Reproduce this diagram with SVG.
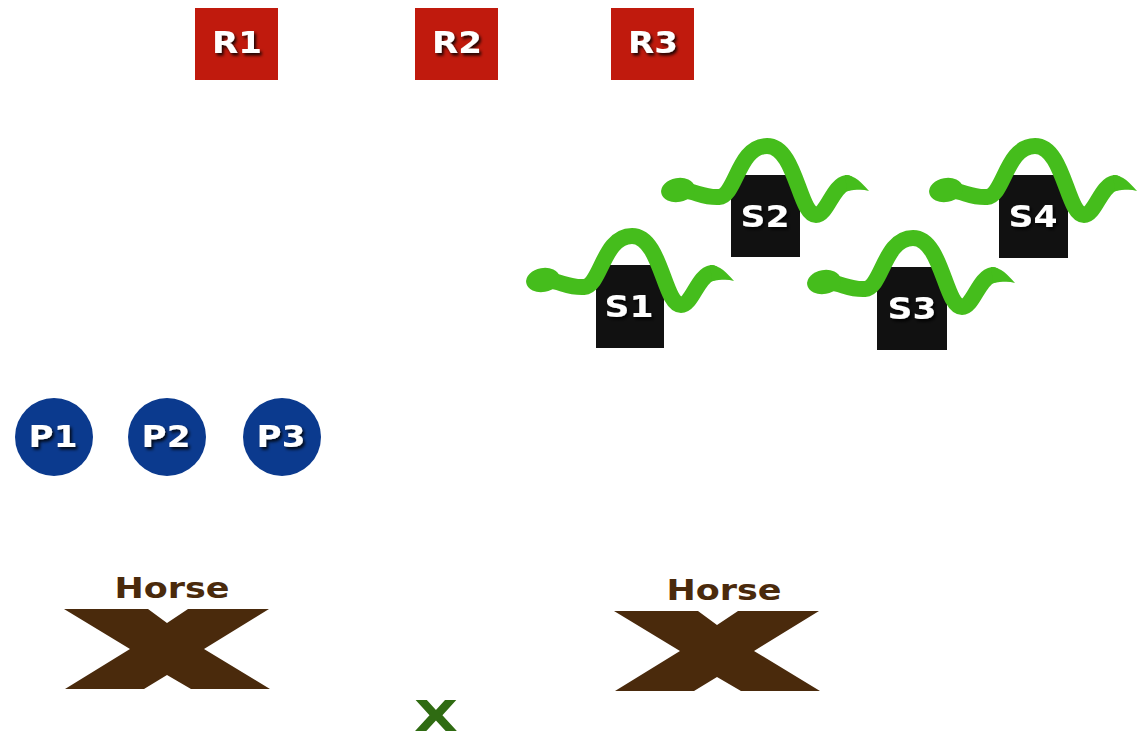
<svg xmlns="http://www.w3.org/2000/svg" xmlns:xlink="http://www.w3.org/1999/xlink" width="1140" height="740" viewBox="0 0 1140 740">
  <style>
    .lbl { font-family: "DejaVu Sans", "Liberation Sans", sans-serif; font-weight: bold; font-size: 30px; fill: #ffffff; text-anchor: middle; filter: url(#shadow); }
    .rbox { fill: #c01a0d; }
    .sbox { fill: #111111; }
    .pdot { fill: #0b3a8e; }
    .horse { fill: #4a2a0c; }
    .horse-txt { font-family: "DejaVu Sans", "Liberation Sans", sans-serif; font-weight: bold; font-size: 29px; fill: #4a2a0c; text-anchor: middle; }
    .snake { fill: none; stroke: #45bd1c; stroke-linecap: round; stroke-linejoin: round; }
    .snake-fill { fill: #45bd1c; }
  </style>
  <defs>
    <filter id="shadow" x="-30%" y="-30%" width="160%" height="160%">
      <feDropShadow dx="2" dy="2.5" stdDeviation="1.5" flood-color="#000000" flood-opacity="0.85"/>
    </filter>
    <!-- snake drawn relative to the top-left corner of its box -->
    <g id="snake">
      <path class="snake" stroke-width="16" d="M -52 16 C -38 14, -30 23, -12 22 C 5 21, 7 -29, 36 -29 C 65 -29, 68 40, 85 40 C 96 40, 102 10, 116 8"/>
      <path class="snake-fill" d="M 114 0 C 124 0, 131 8, 138 16 C 131 14, 124 15, 116 16 Z"/>
      <ellipse class="snake-fill" cx="-53" cy="15" rx="17" ry="12" transform="rotate(-10 -53 15)"/>
    </g>
    <!-- brown X marker, origin at its top-left corner -->
    <polygon id="xmark" points="0,0 84,0 103,14 124,0 205,0 140,40 206,80 127,80 103,66 80,80 1,80 66,40"/>
  </defs>

  <rect width="1140" height="740" fill="#ffffff"/>

  <!-- resources -->
  <g id="R1"><rect class="rbox" x="195" y="8" width="83" height="72"/><text class="lbl" x="237" y="53" textLength="50" lengthAdjust="spacingAndGlyphs">R1</text></g>
  <g id="R2"><rect class="rbox" x="415" y="8" width="83" height="72"/><text class="lbl" x="457" y="53" textLength="50" lengthAdjust="spacingAndGlyphs">R2</text></g>
  <g id="R3"><rect class="rbox" x="611" y="8" width="83" height="72"/><text class="lbl" x="653" y="53" textLength="50" lengthAdjust="spacingAndGlyphs">R3</text></g>

  <!-- snake boxes -->
  <g id="S1" transform="translate(596,265)">
    <rect class="sbox" width="68" height="83"/>
    <use xlink:href="#snake"/>
    <text class="lbl" x="33" y="52" textLength="49" lengthAdjust="spacingAndGlyphs">S1</text>
  </g>
  <g id="S2" transform="translate(731,175)">
    <rect class="sbox" width="69" height="82"/>
    <use xlink:href="#snake"/>
    <text class="lbl" x="34" y="52" textLength="49" lengthAdjust="spacingAndGlyphs">S2</text>
  </g>
  <g id="S3" transform="translate(877,267)">
    <rect class="sbox" width="70" height="83"/>
    <use xlink:href="#snake"/>
    <text class="lbl" x="35" y="52" textLength="49" lengthAdjust="spacingAndGlyphs">S3</text>
  </g>
  <g id="S4" transform="translate(999,175)">
    <rect class="sbox" width="69" height="83"/>
    <use xlink:href="#snake"/>
    <text class="lbl" x="34" y="52" textLength="49" lengthAdjust="spacingAndGlyphs">S4</text>
  </g>

  <!-- players -->
  <g id="P1"><circle class="pdot" cx="54" cy="437" r="39"/><text class="lbl" x="53" y="447" font-size="31" textLength="49" lengthAdjust="spacingAndGlyphs">P1</text></g>
  <g id="P2"><circle class="pdot" cx="167" cy="437" r="39"/><text class="lbl" x="166" y="447" font-size="31" textLength="49" lengthAdjust="spacingAndGlyphs">P2</text></g>
  <g id="P3"><circle class="pdot" cx="282" cy="437" r="39"/><text class="lbl" x="281" y="447" font-size="31" textLength="49" lengthAdjust="spacingAndGlyphs">P3</text></g>

  <!-- horses -->
  <g id="horse1">
    <text class="horse-txt" x="172" y="598" textLength="115" lengthAdjust="spacingAndGlyphs">Horse</text>
    <use xlink:href="#xmark" class="horse" x="64" y="609"/>
  </g>
  <g id="horse2">
    <text class="horse-txt" x="724" y="600" textLength="115" lengthAdjust="spacingAndGlyphs">Horse</text>
    <use xlink:href="#xmark" class="horse" x="614" y="611"/>
  </g>

  <!-- green marker -->
  <g id="x">
    <text x="436" y="731" font-family="DejaVu Sans, sans-serif" font-weight="bold" font-size="42" fill="#2f6b12" text-anchor="middle" textLength="44" lengthAdjust="spacingAndGlyphs">X</text>
  </g>

  <g id="connectors"/>
</svg>
